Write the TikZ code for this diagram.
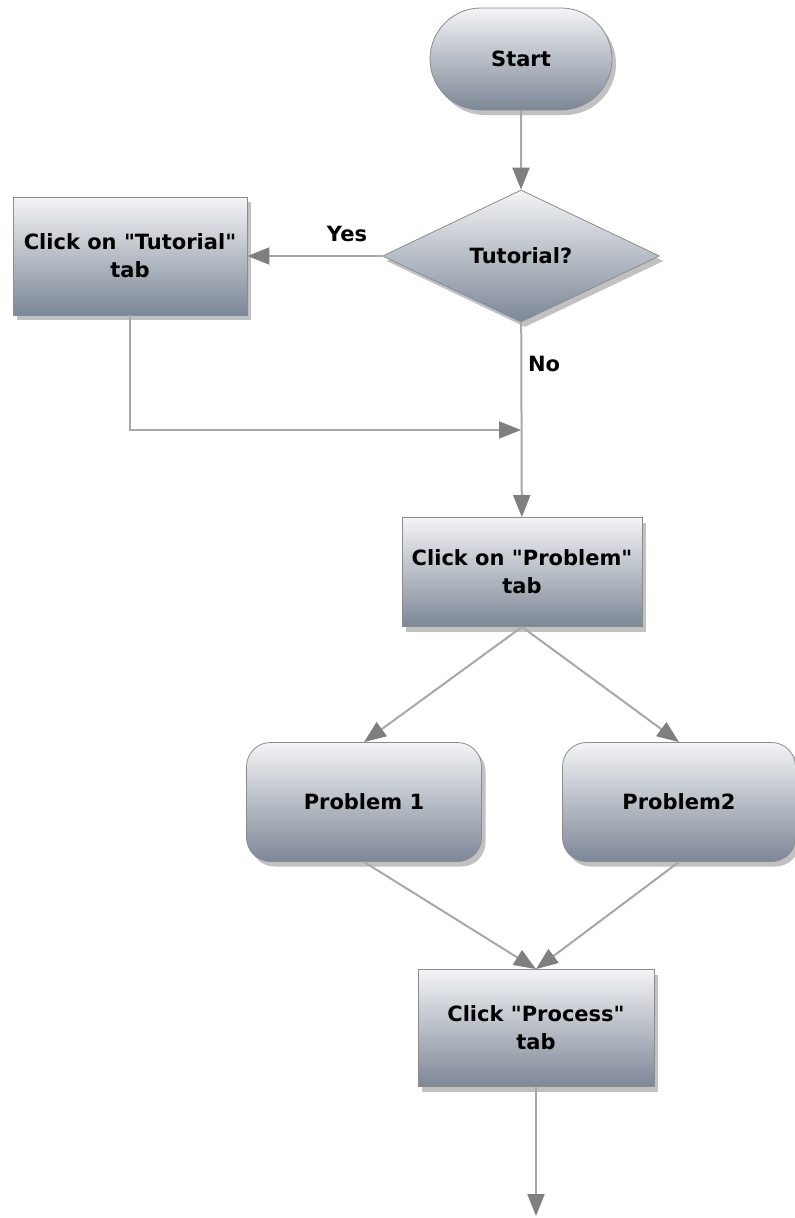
\documentclass[tikz,border=0pt]{standalone}
\usepackage{fontspec}
\setmainfont{DejaVu Sans}[Ligatures=TeXOff]
\usetikzlibrary{shapes.geometric, shapes.misc, arrows.meta, positioning, shadows}
\definecolor{boxtop}{HTML}{F3F4F6}
\definecolor{boxbot}{HTML}{7C8796}
\definecolor{linegray}{HTML}{A8A8A8}
\definecolor{tipgray}{HTML}{7F7F7F}
\tikzset{
    base/.style={draw=black!45, thick, align=center, inner sep=0pt,
        font=\fontsize{21}{28}\selectfont\bfseries,
        top color=boxtop, bottom color=boxbot,
        drop shadow={shadow xshift=4pt, shadow yshift=-5pt, opacity=0.35, fill=black!70}},
    process/.style={base, rectangle, minimum width=236pt, minimum height=117pt},
    problem/.style={base, rectangle, rounded corners=24pt, minimum width=235pt, minimum height=119pt},
    decision/.style={base, diamond, aspect=2.1, minimum width=277pt, minimum height=132pt},
    terminal/.style={base, rounded rectangle, minimum width=182pt, minimum height=102pt},
    arrow/.style={-{Triangle[length=22pt, width=17pt, color=tipgray]}, line width=2pt, draw=linegray},
    tag/.style={font=\fontsize{21}{24}\selectfont\bfseries, inner sep=0pt}
}
\begin{document}
\begin{tikzpicture}[x=1pt, y=-1pt]
    \useasboundingbox (0,0) rectangle (795,1218);

    \node (start) [terminal] at (521,59) {Start};
    \node (tutq) [decision] at (521,256) {Tutorial?};
    \node (tutorial) [process, minimum width=234pt, minimum height=118pt] at (130,256) {Click on "Tutorial"\\tab};
    \node (probtab) [process, minimum width=240pt, minimum height=109pt] at (522,572) {Click on "Problem"\\tab};
    \node (prob1) [problem] at (364,802) {Problem 1};
    \node (prob2) [problem, minimum width=233pt] at (679,802) {Problem2};
    \node (proc) [process] at (536,1028) {Click "Process"\\tab};
    \coordinate (join) at (521,430);
    \coordinate (out) at (536,1216);

    \node (yes) [tag] at (347,234) {Yes};
    \node (no) [tag] at (544,364) {No};

    \draw [arrow] (start) -- (tutq);
    \draw [arrow] (tutq) -- (tutorial);
    \draw [arrow] (tutorial.south) |- (join);
    \draw [arrow] (tutq) -- (probtab);
    \draw [arrow] (probtab.south) -- (prob1.north);
    \draw [arrow] (probtab.south) -- (prob2.north);
    \draw [arrow] (prob1.south) -- (proc.north);
    \draw [arrow] (prob2.south) -- (proc.north);
    \draw [arrow] (proc) -- (out);
\end{tikzpicture}
\end{document}
